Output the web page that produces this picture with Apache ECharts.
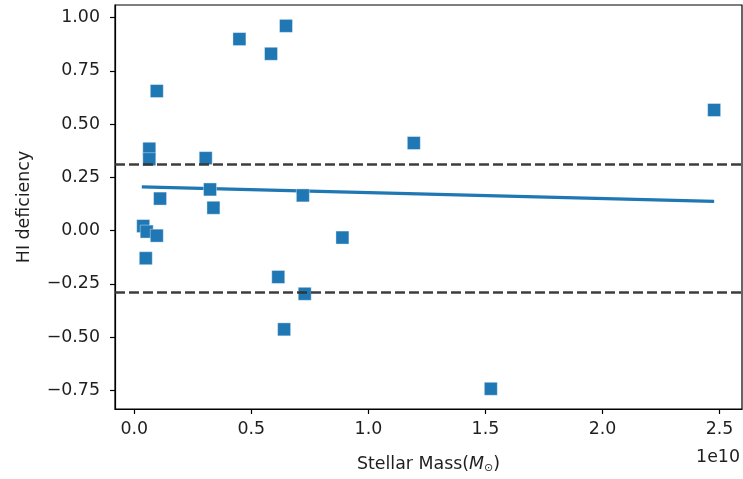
<!DOCTYPE html>
<html>
<head>
<meta charset="utf-8">
<script src="https://cdn.jsdelivr.net/npm/echarts@6/dist/echarts.min.js"></script>
<style>
  html, body { margin: 0; padding: 0; background: #fff; }
  #chart { width: 743px; height: 479px; }
</style>
</head>
<body>
<div id="chart"></div>
<script>
// Stellar mass in units of 1e10 Msun, and HI deficiency
const stellarMass = [0.449, 0.648, 0.584, 0.096, 0.064, 0.064, 0.305, 0.3235, 0.338, 0.110,
                     0.038, 0.053, 0.096, 0.049, 0.720, 0.889, 1.194, 0.615, 0.728, 0.640,
                     1.523, 2.477];
const hiDeficiency = [0.899, 0.961, 0.830, 0.655, 0.384, 0.335, 0.340, 0.193, 0.107, 0.150,
                      0.021, -0.005, -0.024, -0.130, 0.165, -0.033, 0.411, -0.218, -0.297, -0.464,
                      -0.743, 0.566];
// Fitted trend line endpoints
const fitX = [0.032, 2.477];
const fitY = [0.205, 0.137];
// Threshold lines
const thresholds = [0.31, -0.29];
// Tick values
const xTicks = [0.0, 0.5, 1.0, 1.5, 2.0, 2.5];
const yTicks = [-0.75, -0.5, -0.25, 0.0, 0.25, 0.5, 0.75, 1.0];

const scatterData = stellarMass.map((x, i) => [x, hiDeficiency[i]]);
const fitData = fitX.map((x, i) => [x, fitY[i]]);

const FONT = 'DejaVu Sans';
const FS = 17.4;
const TXT = '#1f1f1f';

const chart = echarts.init(document.getElementById('chart'), null, { renderer: 'canvas' });
chart.setOption({
  animation: false,
  backgroundColor: '#fff',
  grid: { left: 115, right: 1, top: 5, bottom: 67, containLabel: false,
          show: true, borderColor: '#000', borderWidth: 1.2, backgroundColor: 'transparent' },
  xAxis: {
    type: 'value', min: -0.0825, max: 2.596,
    splitLine: { show: false },
    axisLine: { show: true, onZero: false, lineStyle: { color: '#000', width: 1.2 } },
    axisTick: { show: true, length: 5, inside: false, customValues: xTicks, lineStyle: { color: '#000', width: 1.2 } },
    axisLabel: { customValues: xTicks, margin: 12, fontFamily: FONT, fontSize: FS, color: TXT,
                 formatter: v => v.toFixed(1) },
    name: '{a|Stellar Mass(}{i|M}{s|⊙}{a|)}',
    nameLocation: 'middle', nameGap: 46,
    nameTextStyle: {
      rich: {
        a: { fontFamily: FONT, fontSize: FS, color: TXT },
        i: { fontFamily: FONT, fontSize: FS, fontStyle: 'italic', color: TXT },
        s: { fontFamily: FONT, fontSize: 11, color: TXT, padding: [8, 0, 0, 0] }
      }
    }
  },
  yAxis: {
    type: 'value', min: -0.838, max: 1.059,
    splitLine: { show: false },
    axisLine: { show: true, onZero: false, lineStyle: { color: '#000', width: 1.2 } },
    axisTick: { show: true, length: 5, inside: false, customValues: yTicks, lineStyle: { color: '#000', width: 1.2 } },
    axisLabel: { customValues: yTicks, margin: 15, fontFamily: FONT, fontSize: FS, color: TXT,
                 formatter: v => (v < 0 ? '\u2212' : '') + Math.abs(v).toFixed(2) },
    name: 'HI deficiency',
    nameLocation: 'middle', nameGap: 82,
    nameTextStyle: { fontFamily: FONT, fontSize: FS, color: TXT }
  },
  graphic: [{
    type: 'text', right: 3, top: 449,
    style: { text: '1e10', font: FS + 'px "DejaVu Sans"', fill: TXT }
  }],
  series: [
    {
      type: 'line', data: fitData, symbol: 'none', z: 2,
      lineStyle: { color: '#1f77b4', width: 3.2 }
    },
    {
      type: 'scatter', data: scatterData, symbol: 'rect', symbolSize: 13, z: 3,
      itemStyle: { color: '#1f77b4', borderColor: '#ffffff', borderWidth: 0.4, opacity: 1 }
    },
    {
      type: 'line', data: [], z: 5,
      markLine: {
        silent: true, symbol: 'none', animation: false,
        label: { show: false },
        lineStyle: { color: '#333333', width: 2.5, type: [10, 4], opacity: 0.95 },
        data: thresholds.map(t => ({ yAxis: t }))
      }
    }
  ]
});
</script>
</body>
</html>
